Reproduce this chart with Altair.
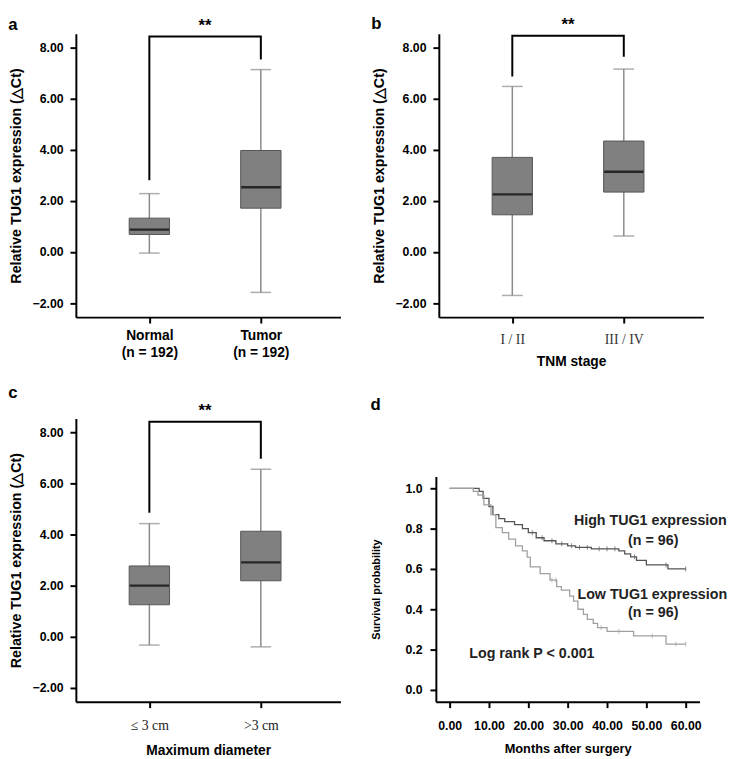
import json
import altair as alt
import pandas as pd

FONT = "Liberation Sans"
SERIF = "Liberation Serif"

# ---------------- data ----------------
a_cats = ["Normal", "Tumor"]
a_labels = [["Normal", "(n = 192)"], ["Tumor", "(n = 192)"]]
a_low = [-0.04, -1.58]
a_q1 = [0.69, 1.72]
a_med = [0.88, 2.54]
a_q3 = [1.33, 3.98]
a_high = [2.29, 7.15]
a_legs = [2.81, 7.55]
a_top = 8.45

b_cats = ["I / II", "III / IV"]
b_low = [-1.70, 0.63]
b_q1 = [1.46, 2.35]
b_med = [2.26, 3.15]
b_q3 = [3.71, 4.35]
b_high = [6.49, 7.17]
b_legs = [6.88, 7.65]
b_top = 8.48

c_cats = ["≤ 3 cm", ">3 cm"]
c_low = [-0.33, -0.40]
c_q1 = [1.25, 2.19]
c_med = [2.00, 2.91]
c_q3 = [2.77, 4.13]
c_high = [4.43, 6.56]
c_legs = [4.86, 6.97]
c_top = 8.42

y_ticks = [-2, 0, 2, 4, 6, 8]

high_t = [0, 7.5, 8.5, 10, 11, 12.5, 14, 16.5, 18.5, 20, 22, 24, 27, 30, 32, 36, 43, 44.5, 46, 47.5, 50, 55.5, 60]
high_s = [1.0, 0.985, 0.95, 0.91, 0.87, 0.85, 0.835, 0.82, 0.80, 0.78, 0.755, 0.74, 0.725, 0.715, 0.707, 0.70, 0.69, 0.675, 0.66, 0.643, 0.62, 0.60, 0.60]
low_t = [0, 6, 7.2, 8.7, 10.5, 11.75, 13.4, 15, 16.75, 18.5, 19.7, 20.5, 23, 25.5, 27.2, 28.4, 30.5, 31.5, 32.6, 34, 35, 36.5, 37.6, 40, 46.75, 55, 60]
low_s = [1.0, 0.985, 0.967, 0.918, 0.87, 0.805, 0.78, 0.748, 0.715, 0.69, 0.659, 0.61, 0.577, 0.545, 0.512, 0.495, 0.465, 0.44, 0.40, 0.375, 0.35, 0.33, 0.309, 0.29, 0.268, 0.227, 0.227]
high_cens = [21, 23.5, 26, 28.5, 31, 33, 35, 38, 40, 42, 47, 55, 60]
low_cens = [26, 27, 38.5, 43, 51.5, 57.5, 60]
month_ticks = [0, 10, 20, 30, 40, 50, 60]
surv_ticks = [0, 0.2, 0.4, 0.6, 0.8, 1.0]

BOX_FILL = "#808080"
BOX_STROKE = "#555555"
WHISK = "#8a8a8a"


def axis_common(**kw):
    base = dict(grid=False, domainColor="black", domainWidth=2, tickColor="black",
                tickWidth=2, tickSize=6, labelFont=FONT, labelFontWeight="bold",
                labelColor="black", titleFont=FONT, titleFontWeight="bold",
                titleColor="black")
    base.update(kw)
    return alt.Axis(**base)


def letter_title(letter, offset):
    return alt.TitleParams(letter, anchor="start", frame="bounds", font=FONT,
                           fontSize=17, fontWeight="bold", offset=offset)


def box_panel(letter, cats, labels, low, q1, med, q3, high, legs, top, xtitle,
              label_font, label_weight, label_color, label_size, toff, lpad, tpad):
    pos = list(range(1, len(cats) + 1))
    df = pd.DataFrame({"pos": pos, "cat": cats, "low": low, "q1": q1,
                       "med": med, "q3": q3, "high": high})
    xs = alt.Scale(domain=[0.385, 2.67], nice=False, zero=False)
    ys = alt.Scale(domain=[-2.55, 8.55], nice=False, zero=False)
    xaxis = axis_common(values=pos, labelExpr=f"{json.dumps(labels)}[datum.value - 1]",
                        labelFont=label_font, labelFontWeight=label_weight,
                        labelColor=label_color, labelFontSize=label_size,
                        labelPadding=lpad, titleFontSize=14, titlePadding=tpad,
                        labelLineHeight=17)
    yaxis = axis_common(values=y_ticks, format=".2f", labelFontSize=12.5,
                        labelPadding=7, titleFontSize=14.5, titlePadding=9)
    xt = xtitle if xtitle else None

    def X(f):
        return alt.X(f, type="quantitative", scale=xs, axis=xaxis, title=xt)

    def Y(f):
        return alt.Y(f, type="quantitative", scale=ys, axis=yaxis,
                     title="Relative TUG1 expression (△Ct)")

    base = alt.Chart(df)
    whisk = base.mark_rule(color=WHISK, strokeWidth=1.5).encode(x=X("pos"), y=Y("low"), y2="high")
    cap_lo = base.mark_tick(orient="horizontal", size=21, thickness=1.5, color=WHISK).encode(x=X("pos"), y=Y("low"))
    cap_hi = base.mark_tick(orient="horizontal", size=21, thickness=1.5, color=WHISK).encode(x=X("pos"), y=Y("high"))
    box = base.mark_bar(orient="vertical", size=41, color=BOX_FILL, stroke=BOX_STROKE,
                        strokeWidth=1).encode(x=X("pos"), y=Y("q1"), y2="q3")
    median = base.mark_tick(orient="horizontal", size=40, thickness=2.5, color="black").encode(x=X("pos"), y=Y("med"))

    br = pd.DataFrame({"pos": [pos[0], pos[0], pos[1], pos[1]],
                       "y": [legs[0], top, top, legs[1]], "ord": [0, 1, 2, 3]})
    bracket = alt.Chart(br).mark_line(color="black", strokeWidth=2).encode(
        x=X("pos"), y=Y("y"), order="ord:Q")
    st = pd.DataFrame({"pos": [(pos[0] + pos[1]) / 2], "y": [top], "t": ["**"]})
    star = alt.Chart(st).mark_text(font=FONT, fontSize=17, fontWeight="bold",
                                   baseline="bottom", dy=-2).encode(
        x=X("pos"), y=Y("y"), text="t:N")

    return alt.layer(whisk, cap_lo, cap_hi, box, median, bracket, star).properties(
        width=269, height=288, title=letter_title(letter, toff))


pa = box_panel("a", a_cats, a_labels, a_low, a_q1, a_med, a_q3, a_high, a_legs, a_top,
               "", FONT, "bold", "black", 14, -17, 6, 8)
pb = box_panel("b", b_cats, b_cats, b_low, b_q1, b_med, b_q3, b_high, b_legs, b_top,
               "TNM stage", SERIF, "normal", "#333333", 14, -17, 10, 8)
pc = box_panel("c", c_cats, c_cats, c_low, c_q1, c_med, c_q3, c_high, c_legs, c_top,
               "Maximum diameter", SERIF, "normal", "#222222", 14, 0, 11, 12)


def step_val(ts, ss, t):
    v = ss[0]
    for ti, si in zip(ts, ss):
        if ti <= t:
            v = si
    return v


km = pd.concat([
    pd.DataFrame({"m": high_t, "s": high_s, "g": "High"}),
    pd.DataFrame({"m": low_t, "s": low_s, "g": "Low"}),
])
cens = pd.concat([
    pd.DataFrame({"m": high_cens, "s": [step_val(high_t, high_s, t) for t in high_cens], "g": "High"}),
    pd.DataFrame({"m": low_cens, "s": [step_val(low_t, low_s, t) for t in low_cens], "g": "Low"}),
])
ann = pd.DataFrame({
    "m": [51.0, 51.75, 51.5, 51.75, 20.9],
    "s": [0.837, 0.74, 0.471, 0.382, 0.179],
    "t": ["High TUG1 expression", "(n = 96)", "Low TUG1 expression", "(n = 96)", "Log rank P < 0.001"],
    "sz": ["big", "small", "big2", "small", "mid"],
})

dxs = alt.Scale(domain=[-3.5, 63.5], nice=False, zero=False)
dys = alt.Scale(domain=[-0.059, 1.059], nice=False, zero=False)
dxaxis = axis_common(values=month_ticks, format=".2f", labelFontSize=12.5, labelPadding=12,
                     titleFontSize=13, titlePadding=11)
dyaxis = axis_common(values=surv_ticks, format=".1f", labelFontSize=12.5, labelPadding=8,
                     titleFontSize=11, titlePadding=24)
gcol = alt.Color("g:N", scale=alt.Scale(domain=["High", "Low"], range=["#555555", "#a0a0a0"]), legend=None)


def DX(f):
    return alt.X(f, type="quantitative", scale=dxs, axis=dxaxis, title="Months after surgery")


def DY(f):
    return alt.Y(f, type="quantitative", scale=dys, axis=dyaxis, title="Survival probability")


lines = alt.Chart(km).mark_line(interpolate="step-after", strokeWidth=1.3).encode(
    x=DX("m"), y=DY("s"), color=gcol, detail="g:N")
ticks = alt.Chart(cens).mark_tick(orient="vertical", size=5, thickness=1).encode(
    x=DX("m"), y=DY("s"), color=gcol)
txt = alt.Chart(ann).mark_text(font=FONT, fontWeight="bold", color="#222222").encode(
    x=DX("m"), y=DY("s"), text="t:N",
    size=alt.Size("sz:N", scale=alt.Scale(domain=["big", "big2", "mid", "small"],
                                          range=[14.5, 14.5, 14, 12.5]), legend=None))

pd_ = alt.layer(lines, ticks, txt).properties(width=268, height=229)

# invisible spacer that lowers panel d below the top of panel c
spacer = alt.Chart(pd.DataFrame({"v": [0]})).mark_point(opacity=0).encode(
    x=alt.value(0), y=alt.value(0)).properties(width=268, height=59)
col_d = alt.vconcat(spacer, pd_, spacing=0, title=letter_title("d", 2))

row1 = alt.hconcat(pa, pb, spacing=31)
row2 = alt.hconcat(pc, col_d, spacing=30)
chart = alt.vconcat(row1, row2, spacing=16).properties(
    padding={"left": 0, "top": 0, "right": 0, "bottom": 0}
).configure_view(stroke=None)

chart.save("out.html", embed_options={"renderer": "svg", "actions": False})
